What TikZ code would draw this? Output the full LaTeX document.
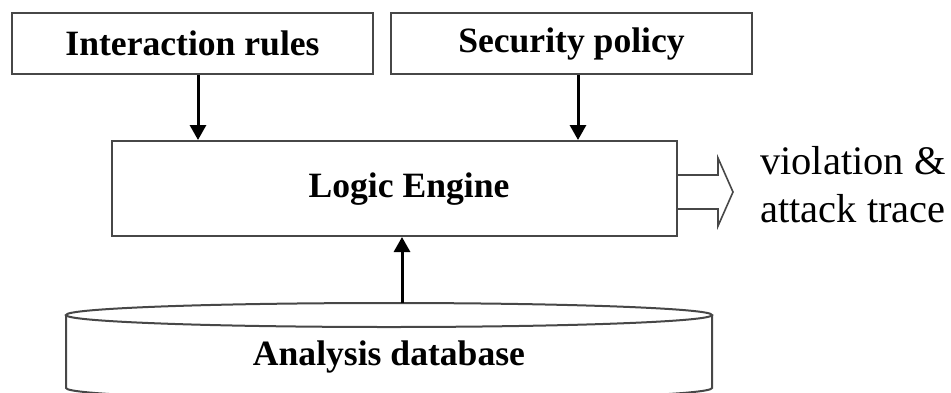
\documentclass[tikz,border=0pt]{standalone}
\usepackage{fontspec}
\setmainfont{Liberation Serif}
\usetikzlibrary{calc,arrows.meta}
\begin{document}
\begin{tikzpicture}[x=1pt,y=-1pt,
  boxline/.style={draw=black!72, line width=2pt},
  box/.style={boxline, rectangle, inner sep=0pt},
  boxtext/.style={font=\bfseries\fontsize{35.6pt}{40pt}\selectfont, inner sep=0pt},
  outtext/.style={font=\fontsize{40.5pt}{48pt}\selectfont, anchor=base west, inner sep=0pt},
  flow/.style={line width=3pt, -{Triangle[length=15pt,width=16pt]}},
]
\useasboundingbox (0,0) rectangle (951,392);

% input boxes
\node[box, minimum width=361pt, minimum height=61pt] (rules) at (192.5,43.5) {};
\node[boxtext] at (rules.center) {Interaction rules};
\node[box, minimum width=361pt, minimum height=61pt] (policy) at (571.5,43.5) {};
\node[boxtext] at (policy.center) {Security policy};

% engine
\node[box, minimum width=565pt, minimum height=95pt] (logic) at (394.5,188.5) {};
\node[boxtext] (logictext) at (409,189) {Logic Engine};

% database cylinder
\coordinate (dbc) at (389,315);
\draw[boxline] (dbc) ellipse [x radius=323pt, y radius=12pt];
\draw[boxline] (66,315) -- (66,388) arc[start angle=180, end angle=360, x radius=323pt, y radius=12pt] -- (712,315);
\node[boxtext] (db) at (389,357) {Analysis database};
\coordinate (dbtop) at (402,303);

% arrows
\draw[flow] (rules.south -| 198,0) -- (logic.north -| 198,0);
\draw[flow] (policy.south -| 578,0) -- (logic.north -| 578,0);
\draw[flow] (dbtop) -- (logic.south -| dbtop);

% hollow output arrow
\coordinate (out) at (logic.east |- 0,192);
\draw[boxline, line width=1.6pt, line join=miter]
  ($(out)+(0,-17)$) -- ++(40,0) -- ++(0,-17) -- ($(out)+(55,0)$)
  -- ($(out)+(40,34)$) -- ++(0,-17) -- ($(out)+(0,17)$);
\node[outtext] (trace1) at (760,174) {violation \&};
\node[outtext] (trace2) at (760,222) {attack trace};
\end{tikzpicture}
\end{document}
